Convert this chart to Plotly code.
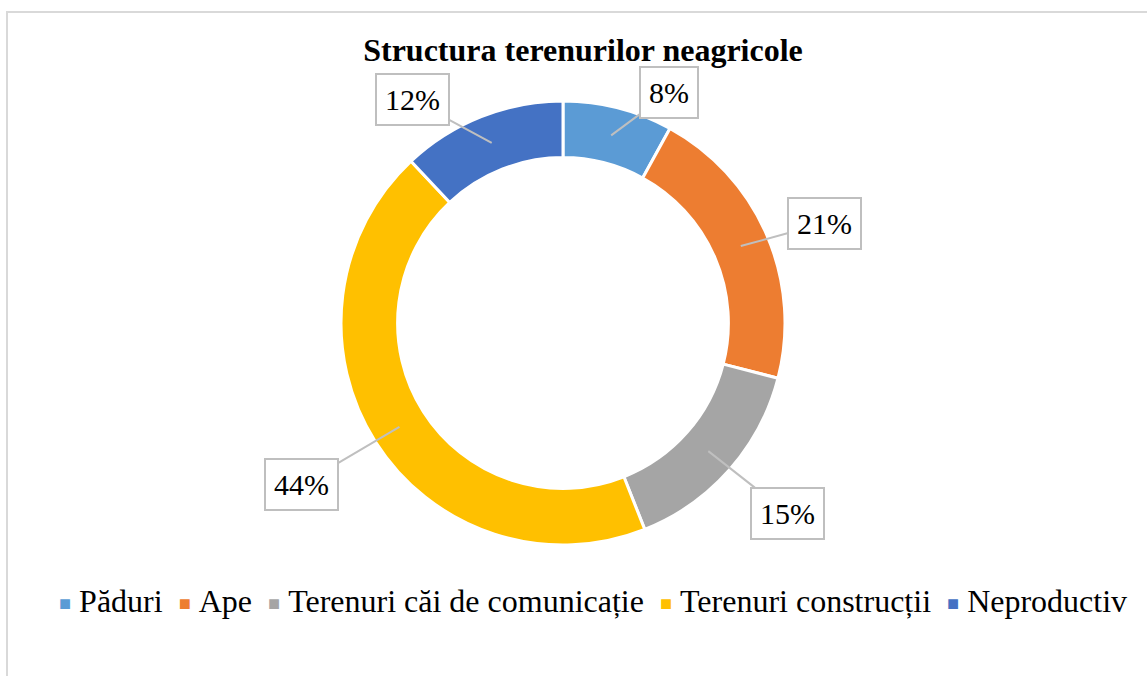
import math
import plotly.graph_objects as go

# ---- data ----
categories = ["Păduri", "Ape", "Terenuri căi de comunicație", "Terenuri construcții", "Neproductiv"]
values = [8, 21, 15, 44, 12]
colors = ["#5B9BD5", "#ED7D31", "#A5A5A5", "#FFC000", "#4472C4"]
title_text = "Structura terenurilor neagricole"

# ---- layout constants (pixels) ----
W, H = 1147, 676
CX, CY, R_OUT = 563, 323, 222
HOLE = 0.745
R_MID = R_OUT * (1 + HOLE) / 2
# callout box offsets (pixels) relative to the slice anchor point
label_offsets = [(58, -43), (84, -23), (79, 62), (-98, 58), (-79, -43)]

FONT = "Liberation Serif, Times New Roman, serif"

fig = go.Figure()
fig.add_trace(go.Pie(
    labels=categories,
    values=values,
    hole=HOLE,
    sort=False,
    direction="clockwise",
    rotation=0,
    textinfo="none",
    hoverinfo="label+percent",
    marker=dict(colors=colors, line=dict(color="white", width=3)),
    domain=dict(x=[(CX - R_OUT) / W, (CX + R_OUT) / W],
                y=[1 - (CY + R_OUT) / H, 1 - (CY - R_OUT) / H]),
    showlegend=False,
))

annotations = []
total = sum(values)
cum = 0
for v, (ox, oy) in zip(values, label_offsets):
    mid = (cum + v / 2) / total * 2 * math.pi
    cum += v
    px = CX + R_MID * math.sin(mid)
    py = CY - R_MID * math.cos(mid)
    annotations.append(dict(
        x=px / W, y=1 - py / H, xref="paper", yref="paper",
        text=f"{round(v / total * 100)}%",
        showarrow=True, arrowhead=0, arrowwidth=2, arrowcolor="#BFBFBF",
        ax=ox, ay=oy,
        font=dict(family=FONT, size=30, color="black"),
        bgcolor="white", bordercolor="#BFBFBF", borderwidth=2, borderpad=8,
    ))

# legend row (built from categories/colors)
parts = []
for c, col in zip(categories, colors):
    parts.append(f'<span style="color:{col};font-size:20px;baseline-shift:2px">■</span>&nbsp;{c}')
legend_text = "&nbsp;&nbsp;".join(parts)
annotations.append(dict(
    x=593 / W, y=1 - 601 / H, xref="paper", yref="paper",
    xanchor="center", yanchor="middle", showarrow=False,
    text=legend_text,
    font=dict(family=FONT, size=32, color="black"),
))

fig.update_layout(
    width=W, height=H,
    margin=dict(l=0, r=0, t=0, b=0),
    paper_bgcolor="white",
    plot_bgcolor="white",
    title=dict(text=f"<b>{title_text}</b>", x=583 / W, xanchor="center",
               y=1 - 50 / H, yanchor="middle", yref="container",
               font=dict(family=FONT, size=32, color="black")),
    annotations=annotations,
    shapes=[dict(type="rect", xref="paper", yref="paper",
                 x0=7 / W, x1=1.05, y0=-0.05, y1=1 - 12 / H,
                 line=dict(color="#D9D9D9", width=2), layer="below")],
)

fig.write_html("out.html",
               config={"displayModeBar": False},
               post_script="document.body.style.margin='0';document.body.style.padding='0';")
